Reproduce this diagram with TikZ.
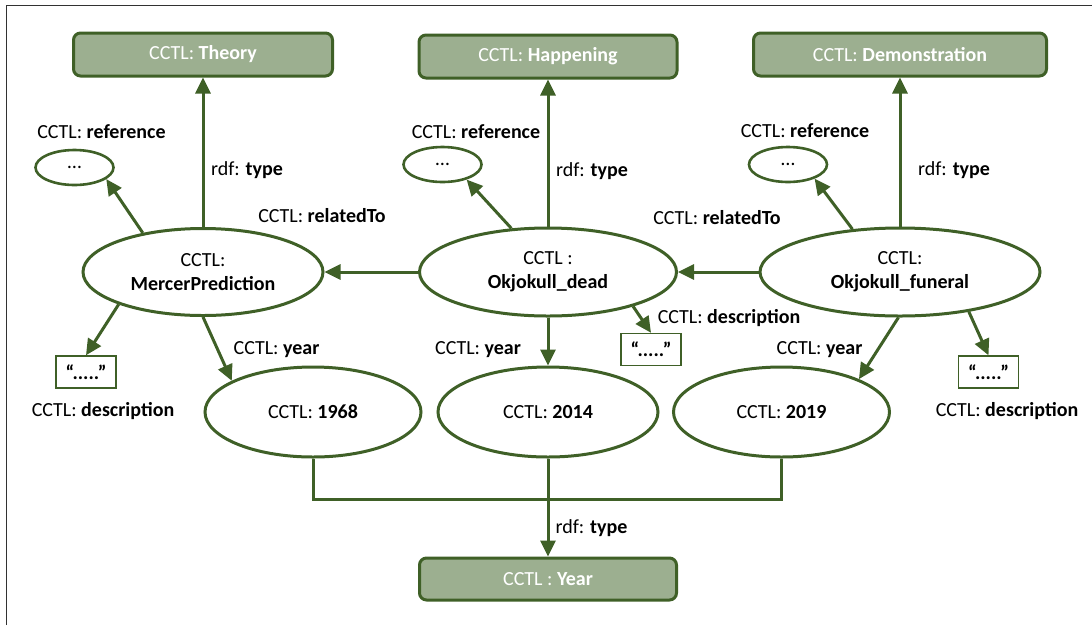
\documentclass[tikz,border=0pt]{standalone}
\usepackage{fontspec}
\setmainfont{Carlito}
\usetikzlibrary{arrows.meta,shapes.geometric}
\definecolor{dgreen}{RGB}{63,96,39}
\definecolor{lgreen}{RGB}{156,175,144}
\definecolor{frame}{RGB}{50,50,50}
\tikzset{
  every node/.style={font=\fontsize{20}{24}\selectfont},
  classbox/.style={draw=dgreen, line width=3pt, fill=lgreen, rounded corners=7pt,
    text=white, inner sep=0pt, align=center},
  bigell/.style={ellipse, draw=dgreen, line width=3pt, inner sep=0pt, align=center},
  smallell/.style={ellipse, draw=dgreen, line width=2.6pt, inner sep=0pt,
    minimum width=78pt, minimum height=35pt},
  litbox/.style={draw=dgreen, line width=1.4pt, inner sep=0pt,
    minimum width=60pt, minimum height=32pt},
  lbl/.style={anchor=base, inner sep=0pt},
  arr/.style={draw=dgreen, line width=3pt, -{Triangle[length=16pt,width=15pt]}},
  ln/.style={draw=dgreen, line width=3pt},
}
\begin{document}
\begin{tikzpicture}[x=1pt,y=-1pt]
\useasboundingbox (0,0) rectangle (1092,625);
\draw[frame, line width=1.5pt] (6.5,625) -- (6.5,5.5) -- (1092,5.5);

% class boxes
\node[classbox, minimum width=259pt, minimum height=43pt] (theory) at (203,54.5) {CCTL: \textbf{Theory}};
\node[classbox, minimum width=258pt, minimum height=43pt] (hap) at (548,56.5) {CCTL: \textbf{Happening}};
\node[classbox, minimum width=293pt, minimum height=43pt] (demo) at (900,54.5) {CCTL: \textbf{Demonstration}};
\node[classbox, minimum width=257pt, minimum height=42pt] (year) at (548,579) {CCTL : \textbf{Year}};

% main ellipses
\node[bigell, minimum width=240pt, minimum height=87pt] (mp) at (203,272) {CCTL:\\\textbf{MercerPrediction}};
\node[bigell, minimum width=257pt, minimum height=88pt] (dead) at (548,272) {CCTL :\\\textbf{Okjokull\_dead}};
\node[bigell, minimum width=280pt, minimum height=88pt] (fun) at (900,272) {CCTL:\\\textbf{Okjokull\_funeral}};

% year ellipses
\node[bigell, minimum width=216pt, minimum height=90pt] (y68) at (313,412) {CCTL: \textbf{1968}};
\node[bigell, minimum width=220pt, minimum height=90pt] (y14) at (548,412) {CCTL: \textbf{2014}};
\node[bigell, minimum width=216pt, minimum height=90pt] (y19) at (781.5,412) {CCTL: \textbf{2019}};

% reference ellipses
\node[smallell] (refL) at (74.5,167.5) {…};
\node[smallell] (refM) at (442.5,164.5) {…};
\node[smallell] (refR) at (788,164.5) {…};

% literal boxes
\node[litbox] (descL) at (86,372) {\textbf{“.....”}};
\node[litbox] (descM) at (651,349.5) {\textbf{“.....”}};
\node[litbox] (descR) at (988.5,372) {\textbf{“.....”}};

% connectors
\draw[arr] (mp.north) -- (theory.south);
\draw[arr] (dead.north) -- (hap.south);
\draw[arr] (fun.north) -- (demo.south);

\draw[arr] (mp.147) -- (refL.-20);
\draw[arr] (dead.130) -- (refM.-32);
\draw[arr] (fun.138) -- (refR.-28);

\draw[arr] (dead.west) -- (mp.east);
\draw[arr] (fun.west) -- (dead.east);

\draw[arr] (mp.201) -- (descL.north);
\draw[arr] (dead.-22) -- (descM.north);
\draw[arr] (fun.-30) -- (descR.north);

\draw[arr] (mp.south) -- (y68.159);
\draw[arr] (dead.south) -- (y14.north);
\draw[arr] (fun.268) -- (y19.23);

\coordinate (br) at (548,499);
\draw[ln] (y68.south) |- (br) -| (y19.south);
\draw[arr] (y14.south) -- (year.north);

% labels
\node[lbl] (lrefL) at (101.5,138) {CCTL: \textbf{reference}};
\node[lbl] (lrefM) at (476,138) {CCTL: \textbf{reference}};
\node[lbl] (lrefR) at (805,137) {CCTL: \textbf{reference}};

\node[lbl] (ltypeL) at (247,175) {rdf: \textbf{type}};
\node[lbl] (ltypeM) at (592,176) {rdf: \textbf{type}};
\node[lbl] (ltypeR) at (954,175) {rdf: \textbf{type}};
\node[lbl] (ltypeB) at (591.5,533) {rdf: \textbf{type}};

\node[lbl] (lrelL) at (322,222) {CCTL: \textbf{relatedTo}};
\node[lbl] (lrelR) at (717,224) {CCTL: \textbf{relatedTo}};

\node[lbl] (ldescL) at (103,416) {CCTL: \textbf{description}};
\node[lbl] (ldescM) at (729,323.5) {CCTL: \textbf{description}};
\node[lbl] (ldescR) at (1007,416) {CCTL: \textbf{description}};

\node[lbl] (lyearL) at (276.5,354.5) {CCTL: \textbf{year}};
\node[lbl] (lyearM) at (478,354.5) {CCTL: \textbf{year}};
\node[lbl] (lyearR) at (819.5,354) {CCTL: \textbf{year}};
\end{tikzpicture}
\end{document}
